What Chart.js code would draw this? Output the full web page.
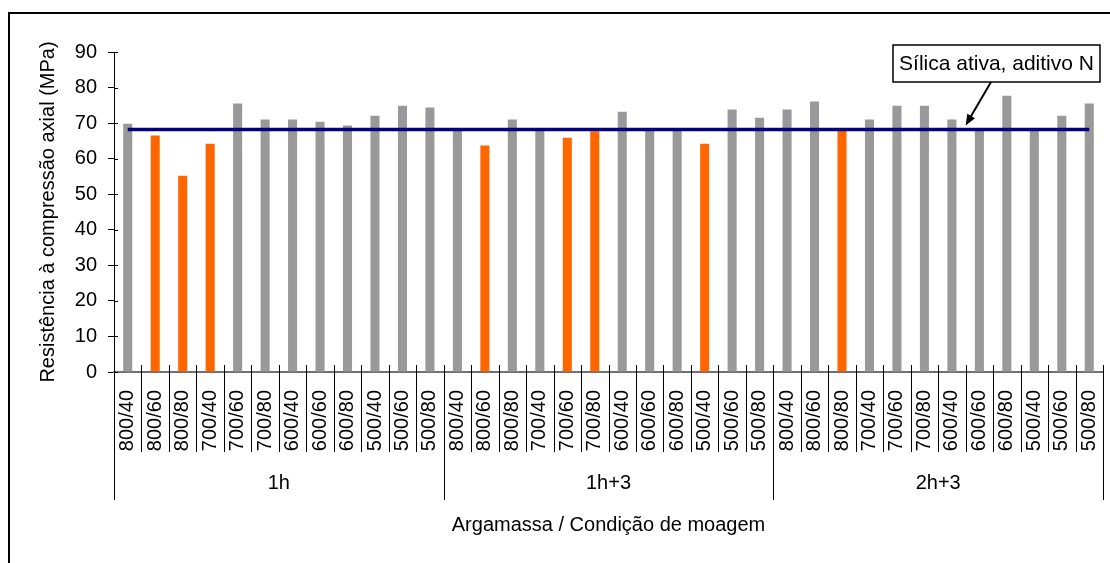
<!DOCTYPE html>
<html>
<head>
<meta charset="utf-8">
<script src="https://cdn.jsdelivr.net/npm/chart.js@4.4.1/dist/chart.umd.min.js"></script>
<style>
  body { margin: 0; background: #fff; overflow: hidden; }
  #moldura { position: absolute; left: 8px; top: 12px; width: 1200px; height: 700px; border: 2px solid #000; box-sizing: border-box; }
  #grafico { position: absolute; left: 0; top: 0; }
</style>
</head>
<body>
<div id="moldura"></div>
<canvas id="grafico" width="1110" height="563"></canvas>
<script>
"use strict";

// argamassas (grupos) e condições de moagem (temperatura/tempo)
const argamassas = ["1h", "1h+3", "2h+3"];
const condicoes = ["800/40", "800/60", "800/80", "700/40", "700/60", "700/80",
                   "600/40", "600/60", "600/80", "500/40", "500/60", "500/80"];

// resistência à compressão axial (MPa)
const resist1h  = [69.8, 66.5, 55.2, 64.2, 75.5, 71.0, 71.0, 70.4, 69.3, 72.1, 74.9, 74.4];
const resist1h3 = [68.0, 63.7, 71.0, 68.0, 65.9, 67.7, 73.2, 68.0, 68.0, 64.2, 73.8, 71.5];
const resist2h3 = [73.8, 76.1, 68.0, 71.0, 74.9, 74.9, 71.0, 68.0, 77.7, 68.0, 72.1, 75.5];

// barras pintadas de laranja
const destaque1h  = [false, true, true, true, false, false, false, false, false, false, false, false];
const destaque1h3 = [false, true, false, false, true, true, false, false, false, true, false, false];
const destaque2h3 = [false, false, true, false, false, false, false, false, false, false, false, false];

// referência: sílica ativa com aditivo N
const silicaAtiva = 68.2;

const fonte = "'Liberation Sans', Arial, sans-serif";
Chart.defaults.font.family = fonte;
Chart.defaults.font.size = 20;
Chart.defaults.color = "#000";

const rotulos = argamassas.flatMap(() => condicoes);
const valores = resist1h.concat(resist1h3, resist2h3);
const cores = destaque1h.concat(destaque1h3, destaque2h3)
  .map(d => d ? "#ff6600" : "#999999");
const linhaRef = rotulos.map(() => silicaAtiva);

// divisórias do eixo x, nomes dos grupos e a caixa de legenda com seta
const divisorias = {
  id: "divisorias",
  afterDraw(chart) {
    const ctx = chart.ctx;
    const x = chart.scales.x;
    const y = chart.scales.y;
    const base = chart.chartArea.bottom;
    const n = rotulos.length;
    ctx.save();
    ctx.strokeStyle = "#000";
    ctx.lineWidth = 1;
    for (let i = 0; i <= n; i++) {
      let px;
      if (i === 0) px = x.left;
      else if (i === n) px = x.right;
      else px = (x.getPixelForValue(i - 1) + x.getPixelForValue(i)) / 2;
      px = Math.round(px) + 0.5;
      const fim = i % condicoes.length === 0 ? base + 128 : base + 80;
      ctx.beginPath();
      ctx.moveTo(px, base - 7);
      ctx.lineTo(px, fim);
      ctx.stroke();
    }

    // parte interna das marcas do eixo y
    y.ticks.forEach(t => {
      const py = Math.round(y.getPixelForValue(t.value)) + 0.5;
      ctx.beginPath();
      ctx.moveTo(y.right, py);
      ctx.lineTo(y.right + 4, py);
      ctx.stroke();
    });

    ctx.fillStyle = "#000";
    ctx.font = "20px " + fonte;
    ctx.textAlign = "center";
    ctx.textBaseline = "middle";
    argamassas.forEach((g, k) => {
      const a = x.getPixelForValue(k * condicoes.length);
      const b = x.getPixelForValue(k * condicoes.length + condicoes.length - 1);
      ctx.fillText(g, (a + b) / 2, base + 111);
    });

    // caixa "Sílica ativa, aditivo N"
    const bx = 893, by = 45, bw = 207, bh = 37;
    ctx.fillStyle = "#fff";
    ctx.fillRect(bx, by, bw, bh);
    ctx.lineWidth = 1.5;
    ctx.strokeRect(bx, by, bw, bh);
    ctx.fillStyle = "#000";
    ctx.font = "21px " + fonte;
    ctx.fillText("Sílica ativa, aditivo N", bx + bw / 2, by + bh / 2 + 1);

    // seta até a linha de referência
    const tx = (x.getPixelForValue(30) + x.getPixelForValue(31)) / 2;
    const ty = y.getPixelForValue(silicaAtiva) - 4;
    const sx = 991, sy = by + bh;
    const ang = Math.atan2(ty - sy, tx - sx);
    ctx.lineWidth = 2;
    ctx.beginPath();
    ctx.moveTo(sx, sy);
    ctx.lineTo(tx - 8 * Math.cos(ang), ty - 8 * Math.sin(ang));
    ctx.stroke();
    ctx.beginPath();
    ctx.moveTo(tx, ty);
    ctx.lineTo(tx - 11 * Math.cos(ang) + 4.5 * Math.sin(ang), ty - 11 * Math.sin(ang) - 4.5 * Math.cos(ang));
    ctx.lineTo(tx - 11 * Math.cos(ang) - 4.5 * Math.sin(ang), ty - 11 * Math.sin(ang) + 4.5 * Math.cos(ang));
    ctx.closePath();
    ctx.fill();
    ctx.restore();
  }
};

new Chart(document.getElementById("grafico"), {
  type: "bar",
  data: {
    labels: rotulos,
    datasets: [
      {
        type: "line",
        label: "Sílica ativa, aditivo N",
        data: linhaRef,
        borderColor: "#000080",
        borderWidth: 3.5,
        pointRadius: 0,
        fill: false,
        order: 0
      },
      {
        label: "Resistência",
        data: valores,
        backgroundColor: cores,
        barPercentage: 0.33,
        categoryPercentage: 1,
        order: 1
      }
    ]
  },
  options: {
    responsive: false,
    animation: false,
    devicePixelRatio: 1,
    layout: { padding: { top: 52, right: 7, left: 0, bottom: 0 } },
    plugins: {
      legend: { display: false },
      tooltip: { enabled: false }
    },
    scales: {
      x: {
        offset: true,
        grid: { display: false, drawTicks: false },
        border: { display: true, color: "#707070", width: 2 },
        ticks: { autoSkip: false, minRotation: 90, maxRotation: 90, padding: 18, color: "#000" },
        title: {
          display: true,
          text: "Argamassa / Condição de moagem",
          padding: { top: 0, bottom: 26 }
        },
        afterFit(s) {
          s.height = 191;
          s.paddingLeft = 0;
          s.paddingRight = 0;
        }
      },
      y: {
        min: 0,
        max: 90,
        ticks: { stepSize: 10, padding: 11, color: "#000" },
        grid: { drawOnChartArea: false, drawTicks: true, tickLength: 6, color: "#000" },
        border: { display: true, color: "#000", width: 1 },
        title: {
          display: true,
          text: "Resistência à compressão axial (MPa)",
          padding: { top: 36, bottom: 0 }
        },
        afterFit(s) {
          s.width = 114;
          s.paddingTop = 0;
          s.paddingBottom = 0;
        }
      }
    }
  },
  plugins: [divisorias]
});
</script>
</body>
</html>
